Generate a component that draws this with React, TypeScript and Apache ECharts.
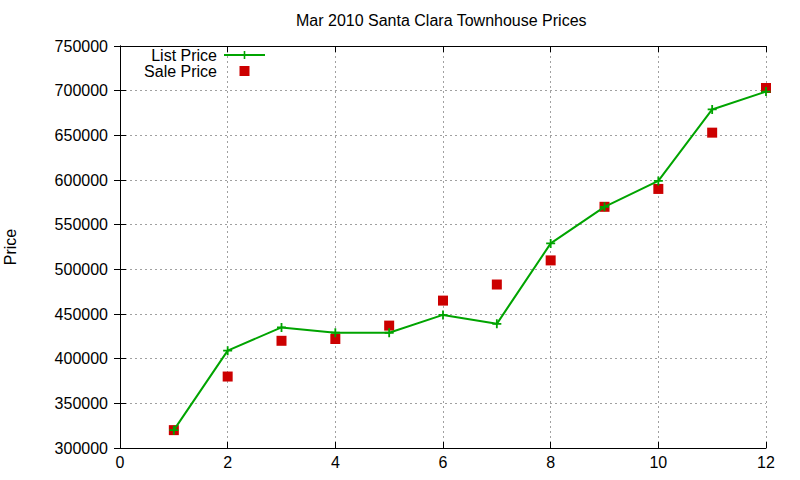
import { useEffect, useRef } from "react";
import * as echarts from "echarts";

const MONTHS = [1, 2, 3, 4, 5, 6, 7, 8, 9, 10, 11, 12];
const LIST_PRICE = [320000, 409000, 435000, 429000, 429000, 449000, 439000, 529000, 570000, 599000, 679000, 699000];
const SALE_PRICE = [320000, 380000, 420000, 422000, 437000, 465000, 483000, 510000, 570000, 590000, 653000, 703000];

const FONT = "Liberation Sans, Arial, sans-serif";
const GREEN = "#00a400";
const RED = "#cc0000";
const PLUS = "path://M4,0H6V4H10V6H6V10H4V6H0V4H4Z";
const SQUARE = "path://M0,0H10V10H0Z";

export default function App() {
  const chartRef = useRef<HTMLDivElement>(null);

  useEffect(() => {
    if (!chartRef.current) return;
    const chart = echarts.init(chartRef.current, undefined, { renderer: "svg" });

    const mirrorAxis = {
      axisLine: { show: true, lineStyle: { color: "#000", width: 1 } },
      axisTick: { show: true, inside: true, length: 6, lineStyle: { color: "#000" } },
      axisLabel: { show: false },
      splitLine: { show: false },
    };

    chart.setOption({
      animation: false,
      backgroundColor: "#fff",
      textStyle: { fontFamily: FONT },
      title: {
        text: "Mar 2010 Santa Clara Townhouse Prices",
        left: 291,
        top: 7,
        textStyle: { fontSize: 16, fontWeight: "normal", color: "#000", fontFamily: FONT },
      },
      legend: {
        orient: "vertical",
        right: 529,
        top: 42,
        align: "right",
        itemWidth: 41,
        itemHeight: 10,
        itemGap: 0,
        symbolKeepAspect: true,
        textStyle: { fontSize: 16, color: "#000", fontFamily: FONT, padding: [0, 2, 0, 0] },
        data: [
          { name: "List Price" },
          { name: "Sale Price", icon: SQUARE },
        ],
      },
      grid: { left: 120, right: 34, top: 46, bottom: 32, outerBoundsMode: "none" },
      xAxis: [
        {
          type: "value",
          min: 0,
          max: 12,
          interval: 2,
          position: "bottom",
          axisLine: { show: true, lineStyle: { color: "#000" } },
          axisTick: { show: true, inside: true, length: 6, lineStyle: { color: "#000" } },
          axisLabel: { color: "#000", fontSize: 16, margin: 6, fontFamily: FONT },
          splitLine: { show: true, lineStyle: { color: "#a0a0a0", type: [2, 3] } },
        },
        { type: "value", min: 0, max: 12, interval: 2, position: "top", ...mirrorAxis },
      ],
      yAxis: [
        {
          type: "value",
          min: 300000,
          max: 750000,
          interval: 50000,
          position: "left",
          name: "Price",
          nameLocation: "middle",
          nameRotate: 90,
          nameGap: 102,
          nameTextStyle: { color: "#000", fontSize: 16, fontFamily: FONT },
          axisLine: { show: true, lineStyle: { color: "#000" } },
          axisTick: { show: true, inside: true, length: 6, lineStyle: { color: "#000" } },
          axisLabel: {
            color: "#000",
            fontSize: 16,
            margin: 12,
            fontFamily: FONT,
            formatter: (v: number) => String(v),
          },
          splitLine: { show: true, lineStyle: { color: "#a0a0a0", type: [2, 3] } },
        },
        { type: "value", min: 300000, max: 750000, interval: 50000, position: "right", ...mirrorAxis },
      ],
      series: [
        {
          name: "List Price",
          type: "line",
          data: MONTHS.map((m, i) => [m, LIST_PRICE[i]]),
          symbol: PLUS,
          symbolSize: 9,
          showAllSymbol: true,
          lineStyle: { color: GREEN, width: 2 },
          itemStyle: { color: GREEN },
          z: 3,
        },
        {
          name: "Sale Price",
          type: "scatter",
          data: MONTHS.map((m, i) => [m, SALE_PRICE[i]]),
          symbol: "rect",
          symbolSize: 10,
          symbolKeepAspect: true,
          itemStyle: { color: RED, opacity: 1 },
          z: 2,
        },
      ],
    });

    return () => chart.dispose();
  }, []);

  return (
    <div
      ref={chartRef}
      style={{ position: "fixed", left: 0, top: 0, width: "800px", height: "480px" }}
    />
  );
}
